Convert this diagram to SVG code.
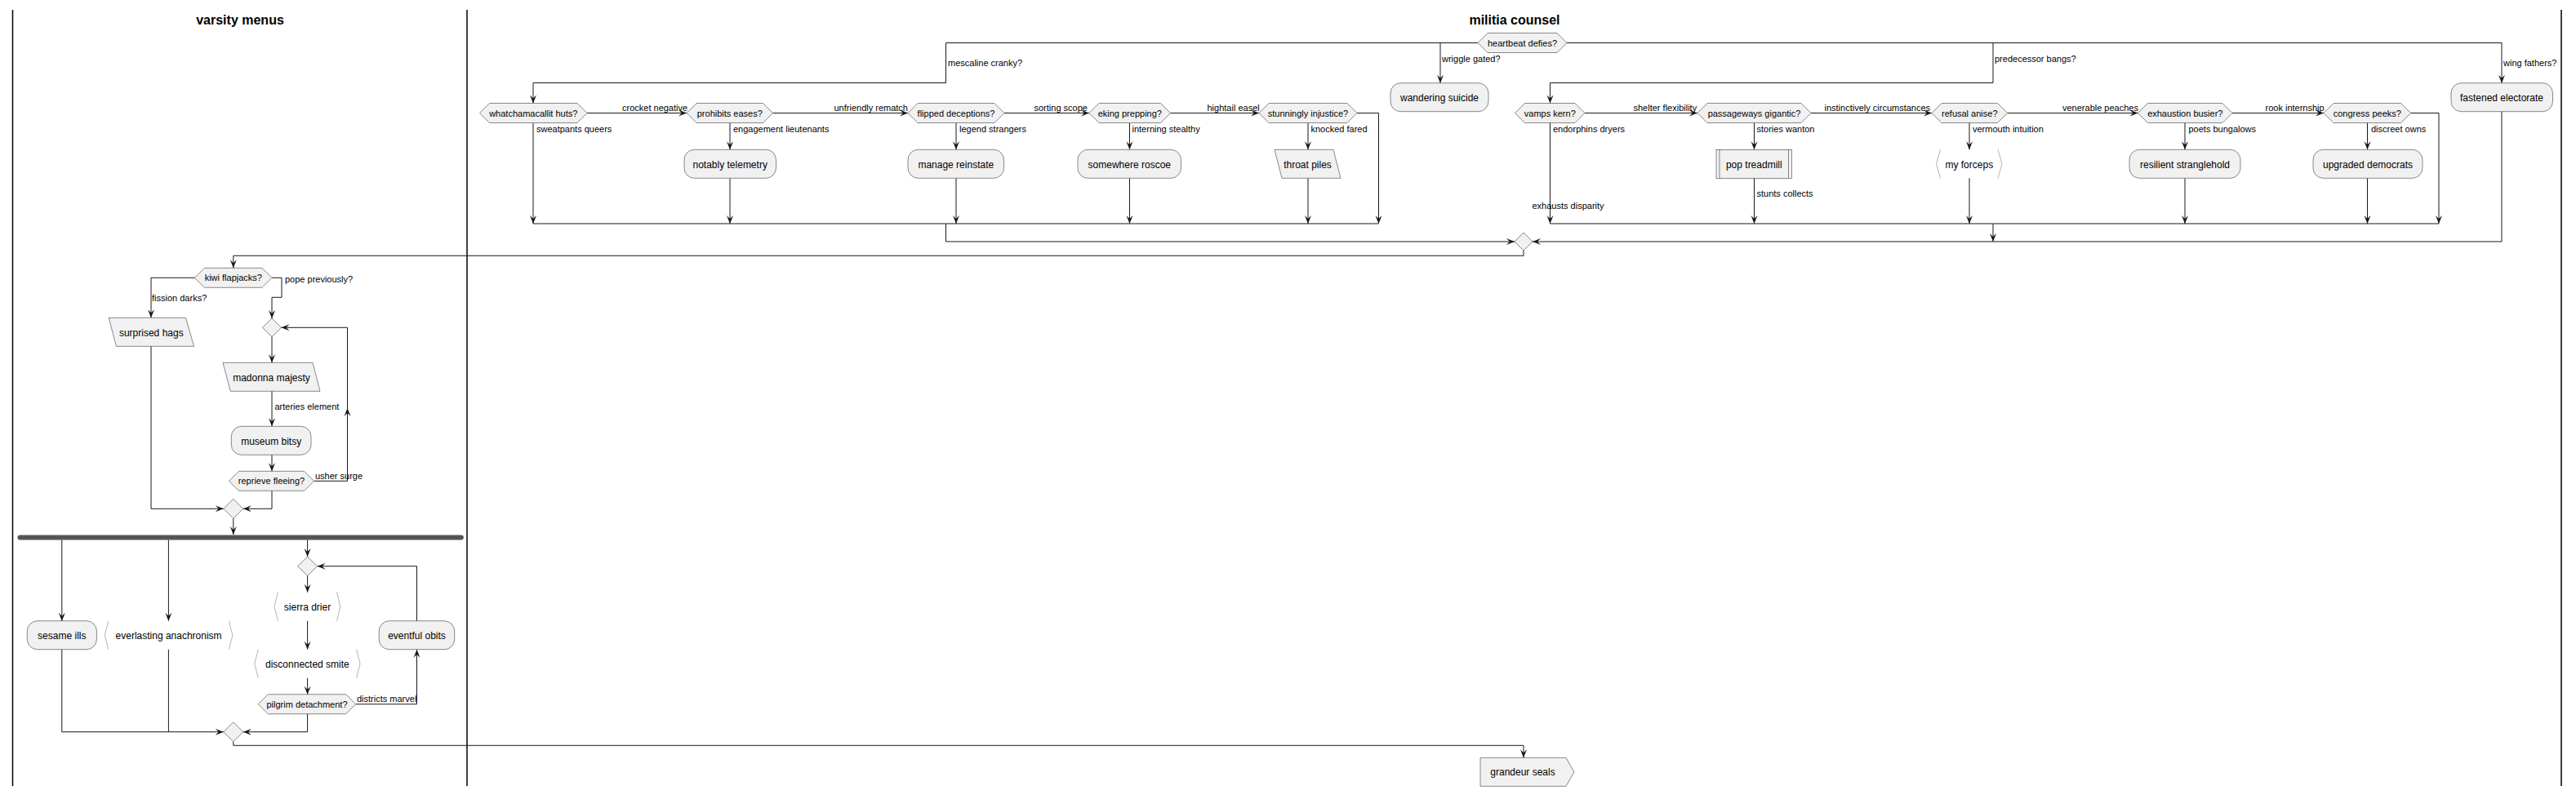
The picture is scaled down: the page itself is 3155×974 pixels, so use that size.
<svg xmlns="http://www.w3.org/2000/svg" width="3155" height="974" viewBox="0 0 3155 974">
<style>
.n{fill:#F1F1F1;stroke:#181818;stroke-width:0.5}
.b{fill:none;stroke:#b4b4b4;stroke-width:1}
.t{font-family:"Liberation Sans",Arial,sans-serif;font-size:12px;fill:#000;text-anchor:middle}
.d{font-family:"Liberation Sans",Arial,sans-serif;font-size:11px;fill:#000;text-anchor:middle}
.l{font-family:"Liberation Sans",Arial,sans-serif;font-size:11px;fill:#000}
.h{font-family:"Liberation Sans",Arial,sans-serif;font-size:16px;font-weight:bold;fill:#000;text-anchor:middle}
.e{fill:none;stroke:#181818;stroke-width:1}
.lane{stroke:#000;stroke-width:1.5}
</style>
<defs>
<marker id="a" viewBox="-11 -5 12 10" refX="0" refY="0" markerWidth="12" markerHeight="10" markerUnits="userSpaceOnUse" orient="auto">
<path d="M0,0 L-10,-4 L-6,0 L-10,4 Z" fill="#181818"/>
</marker>
</defs>
<rect width="3155" height="974" fill="#fff"/>
<g id="lanes">
<line class="lane" x1="15.5" y1="12" x2="15.5" y2="963"/>
<line class="lane" x1="572" y1="12" x2="572" y2="963"/>
<line class="lane" x1="3137" y1="12" x2="3137" y2="963"/>
<text class="h" x="294" y="30">varsity menus</text>
<text class="h" x="1855" y="30">militia counsel</text>
</g>
<g id="connectors">
<path class="e" d="M1810,52.5 H1158.5 V101.5 H653 V126.5" marker-end="url(#a)"/>
<path class="e" d="M1764,52.5 V101.7" marker-end="url(#a)"/>
<path class="e" d="M1919,52.5 H3064 V101.7" marker-end="url(#a)"/>
<path class="e" d="M2441,52.5 V101.5 H1898.5 V126.5" marker-end="url(#a)"/>
<path class="e" d="M719,138.5 H841" marker-end="url(#a)"/>
<path class="e" d="M946.5,138.5 H1112" marker-end="url(#a)"/>
<path class="e" d="M1230,138.5 H1334" marker-end="url(#a)"/>
<path class="e" d="M1433.5,138.5 H1542" marker-end="url(#a)"/>
<path class="e" d="M1662,138.5 H1688.5 V274" marker-end="url(#a)"/>
<path class="e" d="M653,150.5 V274" marker-end="url(#a)"/>
<path class="e" d="M894,150.5 V183.3" marker-end="url(#a)"/>
<path class="e" d="M894,218.3 V274" marker-end="url(#a)"/>
<path class="e" d="M1171,150.5 V183.3" marker-end="url(#a)"/>
<path class="e" d="M1171,218.3 V274" marker-end="url(#a)"/>
<path class="e" d="M1383.5,150.5 V183.3" marker-end="url(#a)"/>
<path class="e" d="M1383.5,218.3 V274" marker-end="url(#a)"/>
<path class="e" d="M1602,150.5 V183.3" marker-end="url(#a)"/>
<path class="e" d="M1602,218.3 V274" marker-end="url(#a)"/>
<path class="e" d="M653,274 H1688.5"/>
<path class="e" d="M1158.5,274 V296 H1855" marker-end="url(#a)"/>
<path class="e" d="M1941,138.5 H2079" marker-end="url(#a)"/>
<path class="e" d="M2218,138.5 H2366" marker-end="url(#a)"/>
<path class="e" d="M2458.5,138.5 H2618.5" marker-end="url(#a)"/>
<path class="e" d="M2734,138.5 H2846" marker-end="url(#a)"/>
<path class="e" d="M2952.5,138.5 H2987 V274" marker-end="url(#a)"/>
<path class="e" d="M1898.5,150.5 V274" marker-end="url(#a)"/>
<path class="e" d="M2148.5,150.5 V183.3" marker-end="url(#a)"/>
<path class="e" d="M2148.5,218.3 V274" marker-end="url(#a)"/>
<path class="e" d="M2412,150.5 V183.3" marker-end="url(#a)"/>
<path class="e" d="M2412,218.3 V274" marker-end="url(#a)"/>
<path class="e" d="M2676,150.5 V183.3" marker-end="url(#a)"/>
<path class="e" d="M2676,218.3 V274" marker-end="url(#a)"/>
<path class="e" d="M2899.5,150.5 V183.3" marker-end="url(#a)"/>
<path class="e" d="M2899.5,218.3 V274" marker-end="url(#a)"/>
<path class="e" d="M1898.5,274 H2987"/>
<path class="e" d="M2441,274 V296" marker-end="url(#a)"/>
<path class="e" d="M3064,136.3 V296 H1877" marker-end="url(#a)"/>
<path class="e" d="M1866,307 V313.3 H285.8 V328.3" marker-end="url(#a)"/>
<path class="e" d="M238.5,340.3 H185 V389.3" marker-end="url(#a)"/>
<path class="e" d="M333,340.3 H345 V364.3 H333 V390" marker-end="url(#a)"/>
<path class="e" d="M333,412.7 V444.3" marker-end="url(#a)"/>
<path class="e" d="M333,479.3 V522.3" marker-end="url(#a)"/>
<path class="e" d="M333,557.3 V577.3" marker-end="url(#a)"/>
<path class="e" d="M384.5,589.3 H425.5 V500" marker-end="url(#a)"/>
<path class="e" d="M425.5,500 V401.3 H344.5" marker-end="url(#a)"/>
<path class="e" d="M333,601.3 V623.3 H297.8" marker-end="url(#a)"/>
<path class="e" d="M185,424.3 V623.3 H273.8" marker-end="url(#a)"/>
<path class="e" d="M285.8,635.3 V655" marker-end="url(#a)"/>
<path class="e" d="M75.8,661.5 V760.7" marker-end="url(#a)"/>
<path class="e" d="M206.4,661.5 V760.7" marker-end="url(#a)"/>
<path class="e" d="M376.6,661.5 V682" marker-end="url(#a)"/>
<path class="e" d="M376.6,705.4 V725.7" marker-end="url(#a)"/>
<path class="e" d="M376.6,760.7 V795.7" marker-end="url(#a)"/>
<path class="e" d="M376.6,830.7 V850.7" marker-end="url(#a)"/>
<path class="e" d="M435.7,862.7 H510.5 V795.7" marker-end="url(#a)"/>
<path class="e" d="M510.5,760.7 V693.7 H388.6" marker-end="url(#a)"/>
<path class="e" d="M376.6,874.7 V896.7 H297.8" marker-end="url(#a)"/>
<path class="e" d="M75.8,795.7 V896.7 H273.8" marker-end="url(#a)"/>
<path class="e" d="M206.4,795.7 V896.7"/>
<path class="e" d="M285.8,908.7 V913.3 H1866 V928.3" marker-end="url(#a)"/>
<text class="l" x="1161" y="81">mescaline cranky?</text>
<text class="l" x="1766" y="76">wriggle gated?</text>
<text class="l" x="2443" y="76">predecessor bangs?</text>
<text class="l" x="3066" y="81">wing fathers?</text>
<text class="l" x="762" y="136">crocket negative</text>
<text class="l" x="1021.5" y="136">unfriendly rematch</text>
<text class="l" x="1266.5" y="136">sorting scope</text>
<text class="l" x="1478.5" y="136">hightail easel</text>
<text class="l" x="2000.5" y="136">shelter flexibility</text>
<text class="l" x="2234.5" y="136">instinctively circumstances</text>
<text class="l" x="2526" y="136">venerable peaches</text>
<text class="l" x="2774.5" y="136">rook internship</text>
<text class="l" x="657" y="162">sweatpants queers</text>
<text class="l" x="898" y="162">engagement lieutenants</text>
<text class="l" x="1175" y="162">legend strangers</text>
<text class="l" x="1386.5" y="162">interning stealthy</text>
<text class="l" x="1605.5" y="162">knocked fared</text>
<text class="l" x="1902" y="162">endorphins dryers</text>
<text class="l" x="1876.5" y="256">exhausts disparity</text>
<text class="l" x="2151.5" y="162">stories wanton</text>
<text class="l" x="2151.5" y="241">stunts collects</text>
<text class="l" x="2416" y="162">vermouth intuition</text>
<text class="l" x="2680.5" y="162">poets bungalows</text>
<text class="l" x="2904" y="162">discreet owns</text>
<text class="l" x="186" y="369">fission darks?</text>
<text class="l" x="349" y="345.5">pope previously?</text>
<text class="l" x="336.5" y="502">arteries element</text>
<text class="l" x="386" y="587">usher surge</text>
<text class="l" x="437" y="860">districts marvel</text>
</g>
<g id="heartbeat">
<path class="n" d="M1810,52.5 L1822,40.5 H1907 L1919,52.5 L1907,64.5 H1822 Z"/>
<text class="d" x="1864.5" y="56.5">heartbeat defies?</text>
</g>
<g id="wandering">
<rect class="n" x="1703" y="101.7" width="120" height="35" rx="12.5"/>
<text class="t" x="1763" y="123.5">wandering suicide</text>
</g>
<g id="fastened">
<rect class="n" x="3002" y="101.7" width="124.5" height="35" rx="12.5"/>
<text class="t" x="3064" y="123.5">fastened electorate</text>
</g>
<g id="whatchamacallit">
<path class="n" d="M587.5,138.5 L599.5,126.5 H707 L719,138.5 L707,150.5 H599.5 Z"/>
<text class="d" x="653.3" y="142.5">whatchamacallit huts?</text>
</g>
<g id="prohibits">
<path class="n" d="M841,138.5 L853,126.5 H934.5 L946.5,138.5 L934.5,150.5 H853 Z"/>
<text class="d" x="893.8" y="142.5">prohibits eases?</text>
</g>
<g id="notably">
<rect class="n" x="838" y="183.3" width="112.5" height="35" rx="12.5"/>
<text class="t" x="894.2" y="205.5">notably telemetry</text>
</g>
<g id="flipped">
<path class="n" d="M1112,138.5 L1124,126.5 H1218 L1230,138.5 L1218,150.5 H1124 Z"/>
<text class="d" x="1171" y="142.5">flipped deceptions?</text>
</g>
<g id="manage">
<rect class="n" x="1112" y="183.3" width="117.5" height="35" rx="12.5"/>
<text class="t" x="1170.8" y="205.5">manage reinstate</text>
</g>
<g id="eking">
<path class="n" d="M1334,138.5 L1346,126.5 H1421.5 L1433.5,138.5 L1421.5,150.5 H1346 Z"/>
<text class="d" x="1383.8" y="142.5">eking prepping?</text>
</g>
<g id="somewhere">
<rect class="n" x="1320" y="183.3" width="126.5" height="35" rx="12.5"/>
<text class="t" x="1383.3" y="205.5">somewhere roscoe</text>
</g>
<g id="stunningly">
<path class="n" d="M1542,138.5 L1554,126.5 H1650 L1662,138.5 L1650,150.5 H1554 Z"/>
<text class="d" x="1602" y="142.5">stunningly injustice?</text>
</g>
<g id="throat">
<path class="n" d="M1561,183.3 H1633 L1642,218.3 H1570 Z"/>
<text class="t" x="1601.5" y="205.5">throat piles</text>
</g>
<g id="vamps">
<path class="n" d="M1855.5,138.5 L1867.5,126.5 H1929 L1941,138.5 L1929,150.5 H1867.5 Z"/>
<text class="d" x="1898.3" y="142.5">vamps kern?</text>
</g>
<g id="passageways">
<path class="n" d="M2079,138.5 L2091,126.5 H2206 L2218,138.5 L2206,150.5 H2091 Z"/>
<text class="d" x="2148.5" y="142.5">passageways gigantic?</text>
</g>
<g id="pop">
<rect class="n" x="2102" y="183.3" width="92.5" height="35"/>
<line class="n" x1="2106" y1="183.3" x2="2106" y2="218.3"/>
<line class="n" x1="2190.5" y1="183.3" x2="2190.5" y2="218.3"/>
<text class="t" x="2148.3" y="205.5">pop treadmill</text>
</g>
<g id="refusal">
<path class="n" d="M2366,138.5 L2378,126.5 H2446.5 L2458.5,138.5 L2446.5,150.5 H2378 Z"/>
<text class="d" x="2412.3" y="142.5">refusal anise?</text>
</g>
<g id="forceps">
<path class="b" d="M2376.5,183.3 L2371.5,200.8 L2376.5,218.3 M2447,183.3 L2452,200.8 L2447,218.3"/>
<text class="t" x="2411.8" y="205.5">my forceps</text>
</g>
<g id="exhaustion">
<path class="n" d="M2618.5,138.5 L2630.5,126.5 H2722 L2734,138.5 L2722,150.5 H2630.5 Z"/>
<text class="d" x="2676.3" y="142.5">exhaustion busier?</text>
</g>
<g id="resilient">
<rect class="n" x="2608" y="183.3" width="136" height="35" rx="12.5"/>
<text class="t" x="2676" y="205.5">resilient stranglehold</text>
</g>
<g id="congress">
<path class="n" d="M2846,138.5 L2858,126.5 H2940.5 L2952.5,138.5 L2940.5,150.5 H2858 Z"/>
<text class="d" x="2899.3" y="142.5">congress peeks?</text>
</g>
<g id="upgraded">
<rect class="n" x="2833" y="183.3" width="134" height="35" rx="12.5"/>
<text class="t" x="2900" y="205.5">upgraded democrats</text>
</g>
<g id="merge1">
<path class="n" d="M1855,296 L1866,285 L1877,296 L1866,307 Z"/>
</g>
<g id="kiwi">
<path class="n" d="M238.5,340.3 L250.5,328.3 H321 L333,340.3 L321,352.3 H250.5 Z"/>
<text class="d" x="285.8" y="344.3">kiwi flapjacks?</text>
</g>
<g id="surprised">
<path class="n" d="M133.2,389.3 H227.5 L237.5,424.3 H142.4 Z"/>
<text class="t" x="185.3" y="411.5">surprised hags</text>
</g>
<g id="loop1">
<path class="n" d="M321.5,401.3 L333,390 L344.5,401.3 L333,412.7 Z"/>
</g>
<g id="madonna">
<path class="n" d="M273,444.3 H383 L392,479.3 H282.2 Z"/>
<text class="t" x="332.5" y="466.5">madonna majesty</text>
</g>
<g id="museum">
<rect class="n" x="283.3" y="522.3" width="97.7" height="35" rx="12.5"/>
<text class="t" x="332.2" y="544.5">museum bitsy</text>
</g>
<g id="reprieve">
<path class="n" d="M280.5,589.3 L292.5,577.3 H372.5 L384.5,589.3 L372.5,601.3 H292.5 Z"/>
<text class="d" x="332.5" y="593.3">reprieve fleeing?</text>
</g>
<g id="merge2">
<path class="n" d="M273.8,623.3 L285.8,611.3 L297.8,623.3 L285.8,635.3 Z"/>
</g>
<g id="fork">
<rect x="21.5" y="655.5" width="546.3" height="6" rx="3" fill="#555555"/>
</g>
<g id="sesame">
<rect class="n" x="33.3" y="760.7" width="85.1" height="35" rx="12.5"/>
<text class="t" x="75.8" y="782.9">sesame ills</text>
</g>
<g id="everlasting">
<path class="b" d="M132.8,760.7 L128.4,778.2 L132.8,795.7 M280.4,760.7 L284.8,778.2 L280.4,795.7"/>
<text class="t" x="206.6" y="782.9">everlasting anachronism</text>
</g>
<g id="loop2">
<path class="n" d="M364.6,693.7 L376.6,682 L388.6,693.7 L376.6,705.4 Z"/>
</g>
<g id="sierra">
<path class="b" d="M340.4,725.7 L336,743.2 L340.4,760.7 M412.5,725.7 L416.9,743.2 L412.5,760.7"/>
<text class="t" x="376.5" y="747.9">sierra drier</text>
</g>
<g id="disconnected">
<path class="b" d="M316.2,795.7 L311.8,813.2 L316.2,830.7 M436.6,795.7 L441,813.2 L436.6,830.7"/>
<text class="t" x="376.4" y="817.9">disconnected smite</text>
</g>
<g id="pilgrim">
<path class="n" d="M316.3,862.7 L328.3,850.7 H423.7 L435.7,862.7 L423.7,874.7 H328.3 Z"/>
<text class="d" x="376" y="866.7">pilgrim detachment?</text>
</g>
<g id="eventful">
<rect class="n" x="464.2" y="760.7" width="92.5" height="35" rx="12.5"/>
<text class="t" x="510.5" y="782.9">eventful obits</text>
</g>
<g id="merge3">
<path class="n" d="M273.8,896.7 L285.8,884.7 L297.8,896.7 L285.8,908.7 Z"/>
</g>
<g id="grandeur">
<path class="n" d="M1813,928.3 H1918 L1928,945.8 L1918,963.3 H1813 Z"/>
<text class="t" x="1865" y="950">grandeur seals</text>
</g>
</svg>
